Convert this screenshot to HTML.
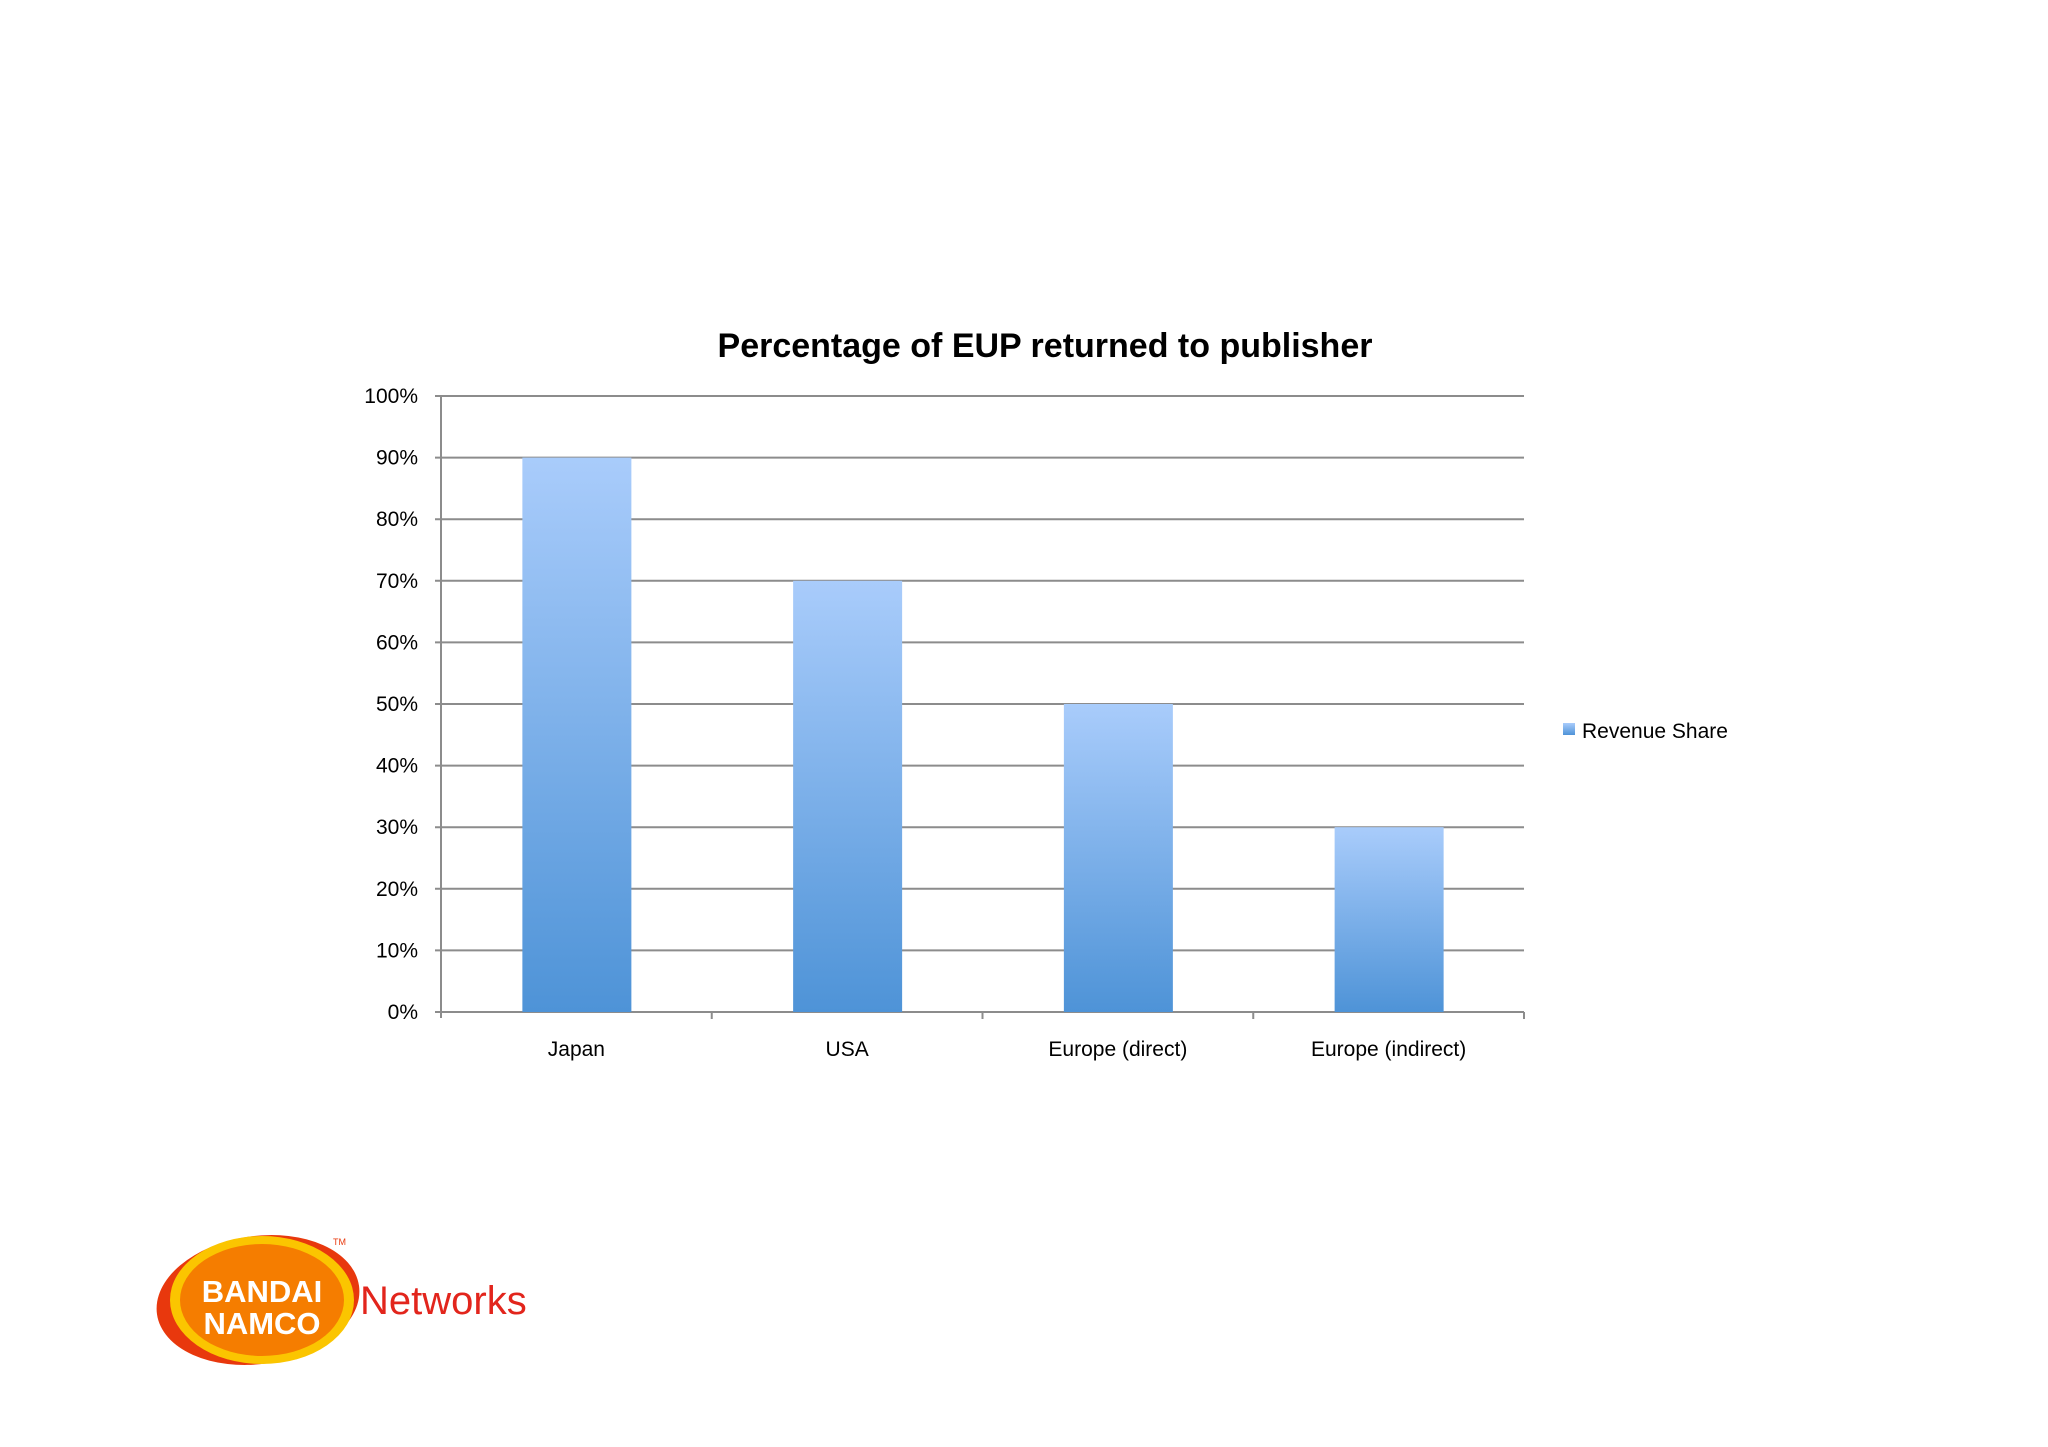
<!DOCTYPE html>
<html><head><meta charset="utf-8"><style>
body{margin:0;background:#fff;width:2048px;height:1447px;overflow:hidden;font-family:"Liberation Sans",sans-serif}
svg{display:block}
</style></head><body>
<svg id="chart" width="2048" height="1447">
<defs>
<linearGradient id="bg" x1="0" y1="0" x2="0" y2="1"><stop offset="0" stop-color="#a9ccfb"/><stop offset="1" stop-color="#4e93d7"/></linearGradient>
</defs>
<text x="1045" y="357" text-anchor="middle" font-size="34" font-weight="bold" fill="#000">Percentage of EUP returned to publisher</text>
<g id="grid"></g><g id="bars"></g><g id="axes"></g>
<rect x="1563" y="723" width="12" height="12" fill="url(#bg)"/>
<text x="1582" y="738" font-size="21" fill="#000">Revenue Share</text>
<g>
<ellipse cx="258" cy="1300" rx="102" ry="64" fill="#e8380d" transform="rotate(-8 258 1300)"/>
<ellipse cx="262" cy="1300" rx="92" ry="64" fill="#fbc500"/>
<ellipse cx="262" cy="1300" rx="82" ry="56" fill="#f57d00"/>
<text x="262" y="1302" text-anchor="middle" font-size="31" font-weight="bold" fill="#fff">BANDAI</text>
<text x="262" y="1334" text-anchor="middle" font-size="31" font-weight="bold" fill="#fff">NAMCO</text>
<text x="333" y="1245" font-size="9" fill="#e8380d">TM</text>
<text x="360" y="1314" font-size="40" fill="#e2251c">Networks</text>
</g>
</svg>
<script>
const categories=["Japan","USA","Europe (direct)","Europe (indirect)"];
const values=[90,70,50,30];
const ticks=[0,10,20,30,40,50,60,70,80,90,100];
const ns="http://www.w3.org/2000/svg";
const X0=441,X1=1524,Y0=1012,Y1=396;
const bw=(X1-X0)/categories.length;
function y(v){return Y0-(v/100)*(Y0-Y1);}
function mk(t,a,p){const e=document.createElementNS(ns,t);for(const k in a)e.setAttribute(k,a[k]);p.appendChild(e);return e;}
const grid=document.getElementById('grid'),bars=document.getElementById('bars'),axes=document.getElementById('axes');
ticks.forEach(t=>{
 const l=mk('line',{x1:X0-6,x2:X1,y1:y(t),y2:y(t),stroke:'#8c8c8c','stroke-width':2},grid);
 
 
 const tx=mk('text',{x:418,y:y(t)+7,'text-anchor':'end','font-size':21,fill:'#000'},axes);
 tx.textContent=t+'%';
 
 
});
mk('line',{x1:X0,x2:X0,y1:Y1,y2:Y0+6,stroke:'#8c8c8c','stroke-width':2},axes);
categories.forEach((c,i)=>{
 const cx=X0+bw*(i+0.5);
 const r=mk('rect',{x:cx-54,y:y(values[i]),width:109,height:Y0-y(values[i]),fill:'url(#bg)'},bars);
 
 
 mk('line',{x1:X0+bw*(i+1),x2:X0+bw*(i+1),y1:Y0,y2:Y0+7,stroke:'#8c8c8c','stroke-width':2},axes);
 const t=mk('text',{x:cx,y:1056,'text-anchor':'middle','font-size':21,fill:'#000'},axes);
 t.textContent=c;
 
 
});
</script>
</body></html>
